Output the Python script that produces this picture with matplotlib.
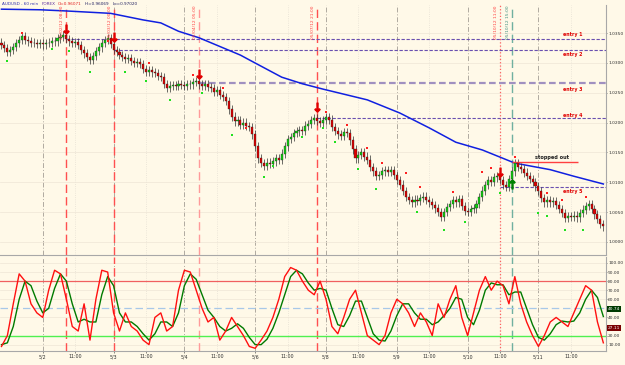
import numpy as np
import matplotlib
matplotlib.use('Agg')
import matplotlib.pyplot as plt
from matplotlib.transforms import blended_transform_factory, offset_copy

BG = '#fff9e8'

# hourly closes, 5/1 10:00 .. 5/11 22:00
closes = [
    1.0330, 1.0325, 1.0318,
    1.0322, 1.0327, 1.0333, 1.0338, 1.0345,
    1.0338, 1.0336, 1.0334, 1.0333, 1.0332, 1.0333, 1.0331, 1.0333,
    1.0334, 1.0337, 1.0336, 1.0341, 1.0343, 1.0346,
    1.0340,
    1.0336, 1.0333, 1.0335, 1.0330,
    1.0322, 1.0316, 1.0310, 1.0305,
    1.0312, 1.0320, 1.0326,
    1.0333, 1.0338, 1.0341,
    1.0332, 1.0322,
    1.0318, 1.0313, 1.0310, 1.0306, 1.0308, 1.0303, 1.0300,
    1.0302, 1.0298, 1.0290,
    1.0285, 1.0288, 1.0284,
    1.0283, 1.0278, 1.0276, 1.0265, 1.0258,
    1.0262, 1.0263, 1.0262, 1.0264, 1.0263,
    1.0262, 1.0265, 1.0264, 1.0268, 1.0270,
    1.0264, 1.0262, 1.0265, 1.0260,
    1.0258, 1.0252, 1.0254, 1.0246,
    1.0243, 1.0236, 1.0222,
    1.0210, 1.0202,
    1.0204, 1.0196, 1.0200, 1.0194, 1.0192,
    1.0180, 1.0160, 1.0140,
    1.0132, 1.0127, 1.0133,
    1.0130, 1.0135, 1.0140, 1.0138,
    1.0148, 1.0160, 1.0172,
    1.0176, 1.0182, 1.0185,
    1.0188, 1.0186, 1.0195,
    1.0198, 1.0204, 1.0208, 1.0203,
    1.0200, 1.0204, 1.0209,
    1.0205, 1.0193, 1.0186, 1.0180, 1.0178,
    1.0184, 1.0182,
    1.0170, 1.0155, 1.0140,
    1.0146, 1.0150, 1.0143,
    1.0138, 1.0126, 1.0118, 1.0110,
    1.0112, 1.0118, 1.0121,
    1.0117, 1.0120, 1.0112,
    1.0104, 1.0096, 1.0085, 1.0075,
    1.0070, 1.0066, 1.0071, 1.0068,
    1.0074, 1.0076, 1.0070,
    1.0066, 1.0062, 1.0056,
    1.0050, 1.0042,
    1.0050, 1.0058, 1.0064,
    1.0070, 1.0066, 1.0072,
    1.0060, 1.0052,
    1.0050, 1.0055,
    1.0056, 1.0064, 1.0075,
    1.0086, 1.0095, 1.0104,
    1.0100, 1.0108, 1.0110,
    1.0104, 1.0095, 1.0092,
    1.0105, 1.0118, 1.0132,
    1.0126, 1.0122, 1.0116,
    1.0110, 1.0105, 1.0100, 1.0093,
    1.0085, 1.0074, 1.0066,
    1.0070, 1.0066, 1.0068, 1.0062,
    1.0055, 1.0048, 1.0040, 1.0043,
    1.0042, 1.0044, 1.0041,
    1.0048, 1.0054, 1.0060, 1.0064,
    1.0055, 1.0046, 1.0038,
    1.0030, 1.0026,
]
first_open = 1.0334
wick = 0.0007

# slow moving average (blue)
ma_idx = [0, 13, 22, 37, 48, 54, 60, 67, 81, 84, 95, 102, 109, 124, 135, 145, 154, 163, 174, 186, 194, 204]
ma_val = [1.0390, 1.0389, 1.0387, 1.0383, 1.0372, 1.0367, 1.0353, 1.0342, 1.0313, 1.0305, 1.0276,
          1.0265, 1.0256, 1.0238, 1.0216, 1.0191, 1.0167, 1.0154, 1.0132, 1.0121, 1.0110, 1.0097]

# fractal dots
frac_hi_idx = [7, 36, 50, 65, 75, 83, 107, 110, 117, 124, 129, 137, 142, 153, 163, 166, 174, 185, 190, 198]
frac_hi_val = [1.0350, 1.0337, 1.0300, 1.0280, 1.0258, 1.0191, 1.0221, 1.0218, 1.0196, 1.0157, 1.0132,
               1.0115, 1.0092, 1.0084, 1.0117, 1.0124, 1.0142, 1.0082, 1.0070, 1.0075]
frac_lo_idx = [2, 17, 23, 30, 42, 49, 57, 68, 78, 89, 92, 102, 109, 113, 121, 127, 141, 150, 157, 169,
               182, 185, 191, 197]
frac_lo_val = [1.0303, 1.0323, 1.0320, 1.0285, 1.0285, 1.0270, 1.0238, 1.0250, 1.0179, 1.0109, 1.0127,
               1.0176, 1.0191, 1.0167, 1.0122, 1.0089, 1.0050, 1.0020, 1.0033, 1.0082, 1.0049, 1.0043,
               1.0020, 1.0020]

# trade entries
entry_names = ['entry 1', 'entry 2', 'entry 3', 'entry 4', 'entry 5']
entry_prices = [1.0340, 1.0322, 1.0267, 1.0207, 1.0092]
entry_start = [22, 38, 67, 107, 169]
entry_text_y = [1.0348, 1.0314, 1.0256, 1.0212, 1.0084]
stop_price = 1.0134
stop_span = (173, 195.5)
stop_text_y = 1.0142

signal_idx = [22, 38, 67, 107, 169, 173]
signal_labels = ['05/02/12 08:00', '05/03/12 00:00', '05/04/12 05:00',
                 '05/07/12 21:00', '05/10/12 11:00', '05/10/12 15:00']
arrow_dn_idx = [22, 38, 67, 107, 169]
arrow_dn_val = [1.0357, 1.0343, 1.0281, 1.0226, 1.0117]
arrow_up_idx = [173]
arrow_up_val = [1.0097]

day_idx = [14, 38, 62, 86, 110, 134, 158, 182]
day_labels = ['5/2', '5/3', '5/4', '5/6', '5/8', '5/9', '5/10', '5/11']

# stochastic, every 2nd bar
stoch_k = [8, 20, 55, 88, 80, 55, 45, 40, 70, 92, 88, 60, 30, 25, 55, 15, 60, 92, 90, 45,
           25, 45, 30, 25, 15, 10, 40, 45, 25, 30, 70, 92, 90, 70, 50, 35, 40, 15, 25, 40,
           30, 20, 8, 6, 15, 25, 40, 60, 85, 95, 92, 80, 70, 65, 80, 60, 30, 22, 40, 60,
           70, 45, 20, 15, 10, 20, 45, 60, 55, 45, 30, 45, 35, 20, 55, 40, 60, 75, 40, 20,
           45, 70, 85, 70, 80, 75, 55, 85, 55, 35, 20, 8, 20, 35, 40, 35, 30, 45, 60, 75,
           70, 35, 12]
stoch_d = [10, 12, 30, 60, 80, 75, 58, 45, 50, 72, 88, 80, 55, 35, 38, 35, 35, 65, 85, 75,
           45, 35, 35, 30, 22, 15, 22, 35, 35, 30, 45, 75, 88, 82, 65, 48, 40, 30, 25, 28,
           33, 28, 18, 10, 10, 16, 28, 45, 65, 85, 92, 88, 78, 70, 72, 70, 50, 32, 30, 42,
           58, 58, 40, 22, 15, 14, 25, 42, 55, 55, 45, 38, 38, 32, 35, 42, 50, 62, 60, 40,
           32, 48, 70, 78, 76, 76, 65, 68, 68, 50, 32, 18, 15, 22, 32, 36, 35, 36, 45, 60,
           70, 62, 41]
k_last, d_last = '27.11', '40.74'

header_parts = ['AUDUSD - 60 min', 'FOREX', 'O=0.96071', 'Hi=0.96069', 'Lo=0.97020']
header_colors = ['#3030b0', '#6030a0', '#e02020', '#202060', '#202060']

XMAX = 204.9


def draw_grid(ax):
    for d in day_idx:
        ax.axvline(d, color='#b0aaa0', lw=0.7, ls=(0, (5, 2, 1, 2)), zorder=1)
        ax.axvline(d + 11, color='#e6e0d4', lw=0.6, ls=':', zorder=1)
    ax.grid(axis='y', color='#eee6d6', lw=0.5)
    for i in signal_idx:
        if i == 173:
            ax.axvline(i, color='#70b0a0', lw=1.0, ls=(0, (6, 3)), zorder=2)
        elif i == 169:
            ax.axvline(i, color='#ff6060', lw=0.9, ls=':', zorder=2)
        elif i == 67:
            ax.axvline(i, color='#ff9a9a', lw=1.0, ls=(0, (6, 3)), zorder=2)
        else:
            ax.axvline(i, color='#ff5050', lw=1.0, ls=(0, (6, 3)), zorder=2)


def style_axis(ax):
    ax.set_facecolor(BG)
    for s in ['top', 'left']:
        ax.spines[s].set_visible(False)
    for s in ['right', 'bottom']:
        ax.spines[s].set_color('#a8a8a8')
        ax.spines[s].set_linewidth(0.8)
    ax.yaxis.tick_right()
    ax.tick_params(axis='y', labelsize=3.2, length=1.0, width=0.4, colors='#303030', pad=0.5)
    ax.set_xlim(-0.5, XMAX)


def main():
    n = len(closes)
    idx = np.arange(n)
    opens = np.array([first_open] + closes[:-1])
    cl = np.array(closes)
    up = cl >= opens
    top = np.maximum(opens, cl)
    bot = np.minimum(opens, cl)

    fig = plt.figure(figsize=(6.25, 3.65), dpi=100, facecolor=BG)
    ax = fig.add_axes([0, 110 / 365, 606 / 625, 250 / 365])
    ax2 = fig.add_axes([0, 14 / 365, 606 / 625, 94 / 365])
    style_axis(ax)
    style_axis(ax2)

    # price panel
    draw_grid(ax)
    ax.set_ylim(0.9978, 1.0397)
    ax.set_yticks(np.arange(1.0000, 1.0351, 0.005))
    ax.yaxis.set_major_formatter(plt.FormatStrFormatter('%.4f'))
    ax.set_xticks([])

    for name, p, s, ty in zip(entry_names, entry_prices, entry_start, entry_text_y):
        if name == 'entry 3':
            ax.hlines(p, s, XMAX, colors='#a090c0', lw=1.6, ls=(0, (3, 1.5)), zorder=3)
        else:
            ax.hlines(p, s, XMAX, colors='#6a50b0', lw=0.8, ls=(0, (3, 1.5)), zorder=3)
        ax.text(193.5, ty, name, fontsize=3.4, color='#e00000', fontweight='bold',
                ha='center', va='center', zorder=6)
    ax.hlines(stop_price, stop_span[0], stop_span[1], colors='#ff4040', lw=1.0, zorder=5)
    ax.text(186.5, stop_text_y, 'stopped out', fontsize=3.6, color='#202020',
            fontweight='bold', ha='center', va='center', zorder=6)

    ax.plot(ma_idx, ma_val, color='#1020e0', lw=1.1, zorder=4)

    ax.vlines(idx, bot - wick, top + wick, color='#303030', lw=0.5, zorder=4)
    ax.bar(idx, np.maximum(top - bot, 0.00004), bottom=bot, width=0.7,
           color=np.where(up, '#10d010', '#e00000'), edgecolor='#202020', linewidth=0.25, zorder=5)

    ax.scatter(frac_hi_idx, frac_hi_val, marker='s', s=3, color='#ff2020', zorder=6, lw=0)
    ax.scatter(frac_lo_idx, frac_lo_val, marker='s', s=3, color='#20e020', zorder=6, lw=0)
    ax.scatter(arrow_dn_idx, arrow_dn_val, marker=r'$\downarrow$', s=40, color='#e00000', zorder=7)
    ax.scatter(arrow_up_idx, arrow_up_val, marker=r'$\uparrow$', s=40, color='#008000', zorder=7)

    for i, lab in zip(signal_idx, signal_labels):
        col = '#409080' if i == 173 else '#ff4040'
        ax.text(i - 0.7, 1.0396, lab, rotation=90, fontsize=3.2, color=col,
                ha='right', va='top', zorder=6)

    # stochastic panel
    draw_grid(ax2)
    ax2.set_ylim(3, 106.6)
    ax2.set_yticks([10, 20, 40, 60, 70, 80, 90, 100])
    ax2.yaxis.set_major_formatter(plt.FormatStrFormatter('%.2f'))
    ax2.axhline(80, color='#f06060', lw=0.9, zorder=3)
    ax2.axhline(20, color='#50f050', lw=1.0, zorder=3)
    ax2.axhline(50, color='#a8c8e8', lw=0.9, ls=(0, (6, 3)), zorder=3)
    sx = np.arange(0, 2 * len(stoch_k), 2)
    ax2.plot(sx, stoch_k, color='#ff1010', lw=1.0, zorder=5)
    ax2.plot(sx[:len(stoch_d)], stoch_d, color='#007a00', lw=1.0, zorder=4)

    tr = blended_transform_factory(ax2.transAxes, ax2.transData)
    ax2.text(1.003, 49, d_last, transform=tr, fontsize=3.2, color='white', va='center', ha='left',
             bbox=dict(boxstyle='square,pad=0.2', fc='#003a00', ec='none'), zorder=8, clip_on=False)
    ax2.text(1.003, 28, k_last, transform=tr, fontsize=3.2, color='white', va='center', ha='left',
             bbox=dict(boxstyle='square,pad=0.2', fc='#7a0000', ec='none'), zorder=8, clip_on=False)

    ticks = []
    labels = []
    for d, lab in zip(day_idx, day_labels):
        ticks += [d, d + 11]
        labels += [lab, '11:00']
    ax2.set_xticks(ticks)
    ax2.set_xticklabels(labels)
    ax2.tick_params(axis='x', labelsize=3.4, length=1.5, width=0.4, colors='#303030', pad=1)

    # header, pieces placed one after another
    renderer = fig.canvas.get_renderer()
    x_px = 2.0
    for txt, col in zip(header_parts, header_colors):
        t = fig.text(x_px / 625, 1 - 4 / 365, txt, fontsize=3.0, color=col, va='center', ha='left')
        x_px = t.get_window_extent(renderer).x1 + 3

    fig.savefig('out.png', dpi=100, facecolor=BG)


if __name__ == "__main__":
    main()
